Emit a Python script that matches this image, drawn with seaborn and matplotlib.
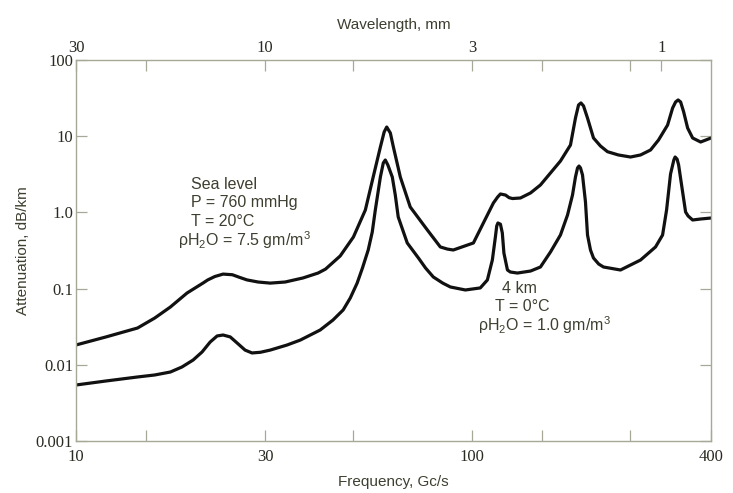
import matplotlib
matplotlib.use("Agg")
import matplotlib.pyplot as plt
import seaborn as sns
import pandas as pd
from matplotlib.ticker import FixedLocator, NullFormatter, NullLocator

# ---- data (frequency GHz, attenuation dB/km) ----
sea_freq = [10.0, 11.9, 14.3, 15.8, 17.3, 19.06, 20.9, 21.5, 22.4, 23.5, 24.8, 25.9,
            27.0, 28.8, 30.9, 33.7, 37.4, 40.8, 42.6, 46.4, 50.1, 53.7, 56.2, 58.6,
            59.9, 60.8, 62.1, 63.2, 65.8, 69.7, 77.0, 83.0, 86.5, 89.5, 100.6, 106.6,
            113.0, 115.8, 117.7, 121.2, 123.8, 126.2, 132.2, 140.2, 148.5, 157.4,
            166.8, 176.8, 182.0, 185.3, 187.9, 190.7, 195.2, 202.1, 210.5, 219.2,
            233.6, 250.6, 265.6, 281.5, 294.9, 310.8, 320.0, 325.6, 330.4, 335.3,
            341.1, 349.2, 359.5, 376.6, 400.0]
sea_att = [0.0182, 0.0232, 0.0304, 0.0411, 0.0573, 0.0875, 0.118, 0.130, 0.144, 0.155,
           0.152, 0.140, 0.130, 0.122, 0.118, 0.122, 0.138, 0.160, 0.180, 0.268,
           0.475, 1.075, 2.91, 7.21, 11.35, 13.2, 11.0, 7.21, 2.91, 1.177, 0.587,
           0.352, 0.330, 0.321, 0.397, 0.726, 1.33, 1.59, 1.744, 1.69, 1.56, 1.52,
           1.545, 1.80, 2.29, 3.29, 4.72, 7.66, 17.3, 25.7, 27.3, 25.0, 17.3, 9.47,
           7.43, 6.26, 5.67, 5.33, 5.67, 6.59, 8.92, 14.0, 23.4, 28.1, 29.9, 28.1,
           21.0, 12.8, 9.47, 8.39, 9.47]

km4_freq = [10.0, 11.9, 14.3, 15.8, 17.3, 18.5, 19.75, 20.8, 21.8, 22.7, 23.5, 24.5,
            25.5, 26.7, 27.8, 29.2, 30.9, 34.1, 36.8, 41.3, 44.5, 47.2, 49.2, 51.2,
            52.8, 54.6, 55.9, 56.9, 58.6, 59.6, 60.3, 61.2, 62.8, 63.9, 65.0, 67.0,
            68.5, 73.1, 76.2, 79.7, 84.2, 88.0, 96.0, 104.7, 109.1, 112.3, 114.3,
            115.2, 116.0, 117.7, 119.0, 120.1, 122.6, 124.7, 129.9, 140.2, 148.5,
            157.4, 166.8, 173.8, 178.9, 182.0, 184.2, 185.8, 187.4, 189.6, 192.9,
            195.2, 198.6, 202.1, 208.3, 214.2, 236.4, 265.6, 289.8, 301.9, 309.0,
            316.2, 322.3, 324.7, 328.5, 331.4, 339.2, 345.1, 350.2, 359.5, 376.6,
            400.0]
km4_att = [0.00543, 0.00613, 0.00692, 0.00735, 0.00804, 0.00935, 0.01156, 0.01473,
           0.0199, 0.0239, 0.0246, 0.0232, 0.0193, 0.0156, 0.0143, 0.0146, 0.0156,
           0.0182, 0.0211, 0.0286, 0.0387, 0.0524, 0.0753, 0.118, 0.186, 0.321,
           0.553, 1.075, 2.91, 4.45, 4.87, 4.19, 2.91, 1.69, 0.871, 0.553, 0.397,
           0.252, 0.186, 0.142, 0.118, 0.105, 0.0959, 0.102, 0.1297, 0.237, 0.475,
           0.664, 0.726, 0.700, 0.537, 0.293, 0.1754, 0.165, 0.160, 0.170, 0.192,
           0.302, 0.505, 0.924, 1.69, 2.91, 3.83, 4.06, 3.83, 3.10, 1.37, 0.505,
           0.321, 0.252, 0.210, 0.192, 0.1754, 0.237, 0.352, 0.505, 1.075, 3.19,
           4.87, 5.33, 5.00, 4.19, 1.85, 1.012, 0.897, 0.795, 0.819, 0.844]

x_major = [10, 30, 100, 400]
x_major_labels = ["10", "30", "100", "400"]
x_minor = [15, 50, 150, 250]
y_major = [0.001, 0.01, 0.1, 1, 10, 100]
y_major_labels = ["0.001", "0.01", "0.1", "1.0", "10", "100"]
wl_labels = ["30", "10", "3", "1"]      # wavelength, mm
wl_freq = [10, 30, 100, 300]            # corresponding frequency, GHz
wl_minor_freq = [15, 50, 150, 250]

sea_lines = ["Sea level", "P = 760 mmHg", "T = 20°C", "ρH$_2$O = 7.5 gm/m$^3$"]
km4_lines = ["4 km", "T = 0°C", "ρH$_2$O = 1.0 gm/m$^3$"]

# ---- plotting ----
sns.set_theme(style="white")
plt.rcParams["font.family"] = ["Liberation Sans", "DejaVu Sans"]
plt.rcParams["mathtext.fontset"] = "custom"
plt.rcParams["mathtext.rm"] = "Liberation Sans"
plt.rcParams["mathtext.it"] = "Liberation Sans"
plt.rcParams["mathtext.default"] = "rm"

df = pd.concat([
    pd.DataFrame({"freq": sea_freq, "att": sea_att, "case": "sea"}),
    pd.DataFrame({"freq": km4_freq, "att": km4_att, "case": "4km"}),
])

fig = plt.figure(figsize=(7.33, 4.93), dpi=100)
ax = fig.add_axes([0.1037, 0.1055, 0.8663, 0.7728])

sns.lineplot(data=df, x="freq", y="att", units="case", estimator=None, sort=False,
             color="#111111", linewidth=2.3, ax=ax, legend=False)
for ln in ax.get_lines():
    ln.set_solid_joinstyle("round")
    ln.set_solid_capstyle("round")

ax.set_xscale("log")
ax.set_yscale("log")
ax.set_xlim(10, 400)
ax.set_ylim(0.001, 100)

spine_col = "#a8a898"
for s in ax.spines.values():
    s.set_color(spine_col)
    s.set_linewidth(1.0)

serif = ["Liberation Serif", "DejaVu Serif"]
tick_col = "#2a2a22"

ax.xaxis.set_major_locator(FixedLocator(x_major))
ax.set_xticklabels(x_major_labels, fontfamily=serif, fontsize=12, color=tick_col)
ax.xaxis.set_minor_locator(FixedLocator(x_minor))
ax.xaxis.set_minor_formatter(NullFormatter())
ax.yaxis.set_major_locator(FixedLocator(y_major))
ax.set_yticklabels(y_major_labels, fontfamily=serif, fontsize=12, color=tick_col)
ax.yaxis.set_minor_locator(NullLocator())

ax.tick_params(axis="x", which="both", direction="in", length=8, width=0.9,
               color=spine_col, pad=6, bottom=True, top=False)
ax.tick_params(axis="y", which="both", direction="in", length=8, width=0.9,
               color=spine_col, pad=2, left=True, right=True)

ax.set_xlabel("Frequency, Gc/s", fontsize=11, color="#3e3e30", labelpad=7)
ax.set_ylabel("Attenuation, dB/km", fontsize=11, color="#3e3e30", labelpad=4)

# top axis: wavelength
ax2 = ax.twiny()
ax2.set_xscale("log")
ax2.set_xlim(ax.get_xlim())
ax2.xaxis.set_major_locator(FixedLocator(wl_freq))
ax2.set_xticklabels(wl_labels, fontfamily=serif, fontsize=12, color=tick_col)
ax2.xaxis.set_minor_locator(FixedLocator(wl_minor_freq))
ax2.xaxis.set_minor_formatter(NullFormatter())
ax2.tick_params(axis="x", which="both", direction="in", length=8, width=0.9,
                color=spine_col, pad=3)
for s in ax2.spines.values():
    s.set_visible(False)
ax2.set_xlabel("Wavelength, mm", fontsize=11, color="#3e3e30", labelpad=8)

# annotations
txt_col = "#3e3e30"
sea_pos = [(0.181, 0.672), (0.181, 0.625), (0.181, 0.577), (0.161, 0.528)]
km4_pos = [(0.671, 0.399), (0.660, 0.352), (0.633, 0.304)]
for (tx, ty), s in zip(sea_pos, sea_lines):
    ax.text(tx, ty, s, transform=ax.transAxes, fontsize=11.5, color=txt_col,
            va="center", ha="left")
for (tx, ty), s in zip(km4_pos, km4_lines):
    ax.text(tx, ty, s, transform=ax.transAxes, fontsize=11.5, color=txt_col,
            va="center", ha="left")

fig.savefig("out.png", dpi=100)
